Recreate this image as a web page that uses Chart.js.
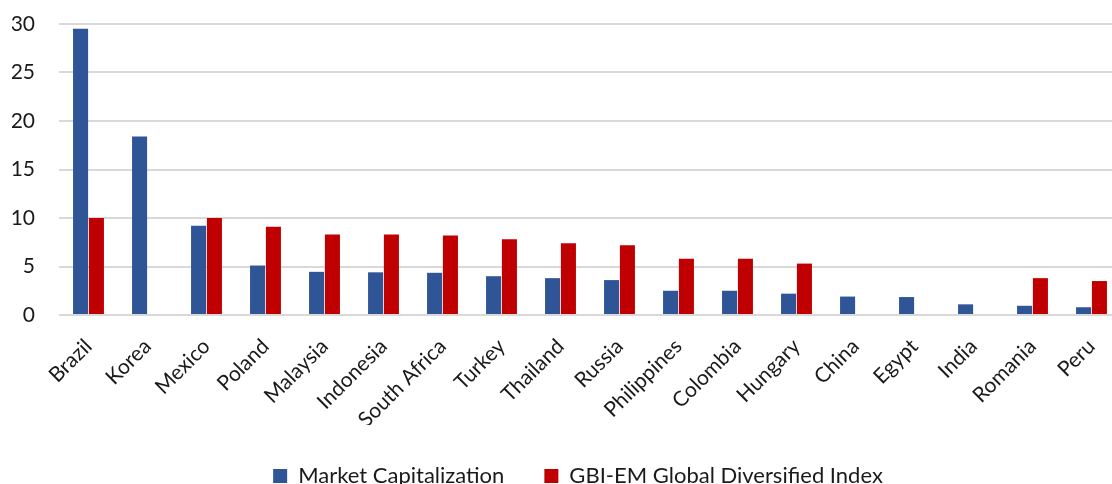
<!DOCTYPE html>
<html>
<head>
<meta charset="utf-8">
<script src="https://cdn.jsdelivr.net/npm/chart.js@4.4.1/dist/chart.umd.min.js"></script>
<style>
  html, body { margin: 0; padding: 0; background: #fff; overflow: hidden; }
  #wrap { position: absolute; left: 0; top: 0; }
</style>
</head>
<body>
<div id="wrap"><canvas id="chart" width="1160" height="497"></canvas></div>
<script>
// 国名（カテゴリ）
const countries = ['Brazil', 'Korea', 'Mexico', 'Poland', 'Malaysia', 'Indonesia', 'South Africa',
    'Turkey', 'Thailand', 'Russia', 'Philippines', 'Colombia', 'Hungary', 'China', 'Egypt',
    'India', 'Romania', 'Peru'];

// 時価総額のシェア
const marketCap = [29.5, 18.4, 9.2, 5.1, 4.45, 4.4, 4.35, 4.0, 3.8, 3.6, 2.5, 2.5, 2.2, 1.9, 1.85,
    1.1, 0.95, 0.8];

// GBI-EM Global Diversified Index のウェイト（非構成国は null）
const gbiWeights = [10.0, null, 10.0, 9.1, 8.3, 8.3, 8.2, 7.8, 7.4, 7.2, 5.8, 5.8, 5.3, null, null,
    null, 3.8, 3.5];

// Y軸の目盛り
const yTicks = [0, 5, 10, 15, 20, 25, 30];

const FONT = 'Lato, "Open Sans", sans-serif';
const TEXT = '#1a1a1a';

// 凡例を少し右へずらすプラグイン（元図の凡例位置に合わせる）
const legendShift = {
    id: 'legendShift',
    afterLayout(chart) {
        if (chart.legend) {
            chart.legend.left += 11.5;
            chart.legend.right += 11.5;
        }
    }
};

const ctx = document.getElementById('chart').getContext('2d');

new Chart(ctx, {
    type: 'bar',
    data: {
        labels: countries,
        datasets: [
            {
                label: 'Market Capitalization',
                data: marketCap,
                backgroundColor: '#2F5597',
                categoryPercentage: 0.537,
                barPercentage: 0.95
            },
            {
                label: 'GBI-EM Global Diversified Index',
                data: gbiWeights,
                backgroundColor: '#C00000',
                categoryPercentage: 0.537,
                barPercentage: 0.95
            }
        ]
    },
    options: {
        responsive: false,
        animation: false,
        layout: { padding: { left: 12, right: 39, top: 24, bottom: 0 } },
        scales: {
            x: {
                grid: { display: false },
                border: { display: false },
                ticks: {
                    color: TEXT,
                    font: { family: FONT, size: 21 },
                    minRotation: 45,
                    maxRotation: 45,
                    padding: 11,
                    autoSkip: false
                },
                // 高さと左右パディングを固定して、プロット領域の位置を合わせる
                afterFit: (s) => { s.height = 110; s.paddingLeft = 0; s.paddingRight = 0; }
            },
            y: {
                min: yTicks[0],
                max: yTicks[yTicks.length - 1],
                grid: { color: '#d9d9d9', lineWidth: 2, drawTicks: false },
                border: { display: false },
                ticks: {
                    stepSize: yTicks[1] - yTicks[0],
                    color: TEXT,
                    font: { family: FONT, size: 21 },
                    padding: 24
                },
                afterFit: (s) => { s.width = 47; s.paddingTop = 0; s.paddingBottom = 0; }
            }
        },
        plugins: {
            tooltip: { enabled: false },
            legend: {
                position: 'bottom',
                labels: {
                    color: TEXT,
                    font: { family: FONT, size: 22 },
                    boxWidth: 14,
                    boxHeight: 14,
                    padding: 40
                }
            }
        }
    },
    plugins: [legendShift]
});
</script>
</body>
</html>
